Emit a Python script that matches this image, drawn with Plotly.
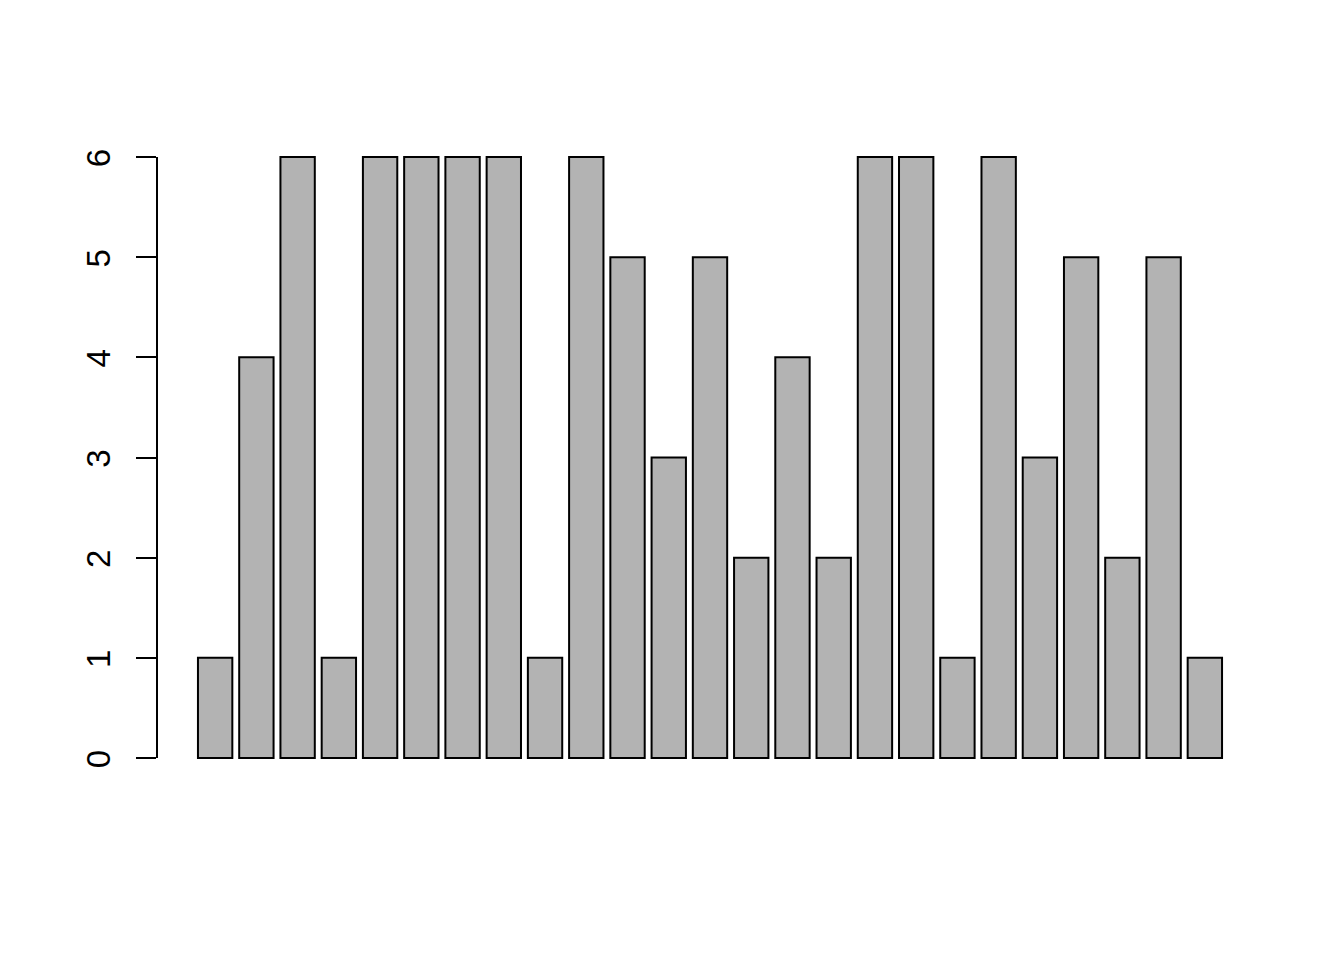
import plotly.graph_objects as go

# bar heights, left to right
positions = list(range(25))
counts = [1, 4, 6, 1, 6, 6, 6, 6, 1, 6, 5, 3, 5, 2, 4, 2, 6, 6, 1, 6, 3, 5, 2, 5, 1]
y_ticks = [0, 1, 2, 3, 4, 5, 6]

fig = go.Figure()
fig.add_trace(go.Bar(
    x=positions, y=counts,
    marker=dict(color="#B3B3B3", line=dict(color="black", width=2)),
    showlegend=False,
))

# R-style y axis line that only spans the tick range
fig.add_shape(type="line", xref="paper", yref="y",
              x0=0, x1=0, y0=min(y_ticks), y1=max(y_ticks),
              line=dict(color="black", width=2))

# page adds an 8px body margin, so shift the plot area up/left by 8px
fig.update_layout(
    width=1344, height=960,
    margin=dict(l=149, r=89, t=125, b=186),
    plot_bgcolor="white", paper_bgcolor="white",
    bargap=1 - 1 / 1.2,
    font=dict(family="Liberation Sans, Arial, sans-serif", size=33, color="black"),
    xaxis=dict(range=[-1.41, 25.41], visible=False, showgrid=False, zeroline=False),
    yaxis=dict(
        range=[-0.24, 6.24], tickvals=y_ticks, ticks="outside", ticklen=20,
        tickwidth=2, tickcolor="black", tickangle=-90, showgrid=False,
        zeroline=False, showline=False, ticklabelstandoff=13,
        ticklabelshift=6,
    ),
)

fig.write_html("out.html")
